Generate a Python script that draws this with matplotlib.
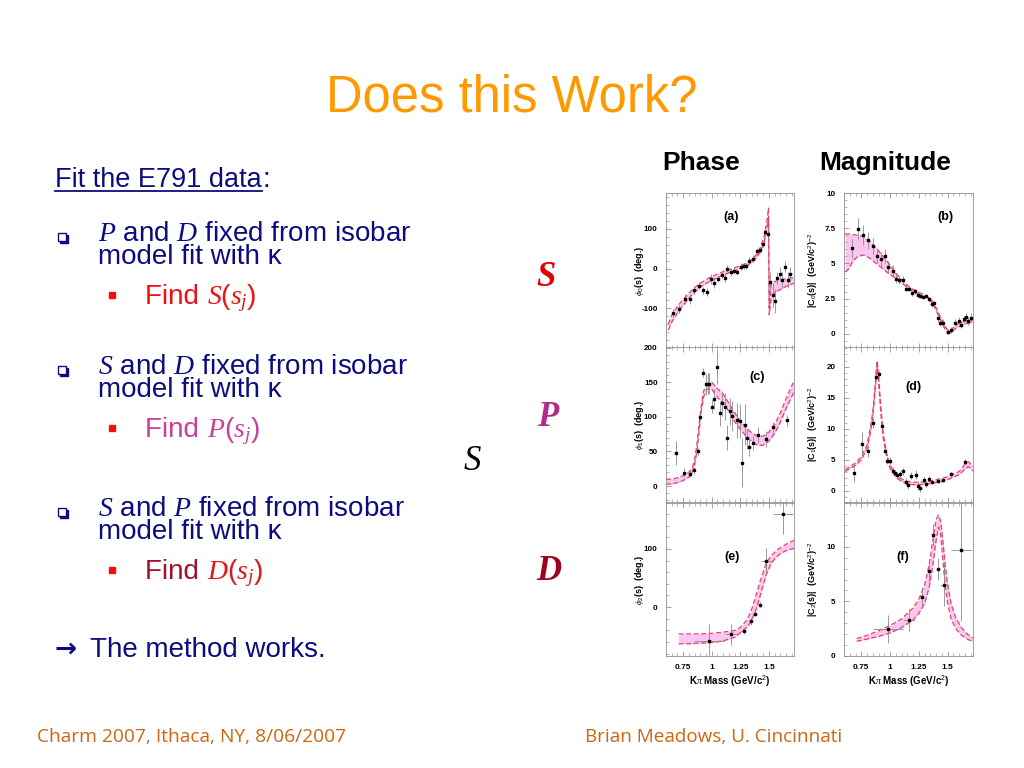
import numpy as np
import matplotlib
matplotlib.use("Agg")
import matplotlib.pyplot as plt
from matplotlib.ticker import MultipleLocator

plt.rcParams['font.family'] = ['Liberation Sans', 'DejaVu Sans']
plt.rcParams['mathtext.fontset'] = 'custom'
plt.rcParams['mathtext.rm'] = 'Liberation Sans'
plt.rcParams['mathtext.it'] = 'Liberation Serif:italic'
plt.rcParams['mathtext.bf'] = 'Liberation Sans:bold'

# ---- panel (a): S-wave phase ----
xa = [0.664, 0.718, 0.764, 0.807, 0.842, 0.885, 0.922, 0.957, 0.991, 1.023, 1.052, 1.086,
      1.115, 1.135, 1.167, 1.195, 1.221, 1.253, 1.279, 1.302, 1.330, 1.365, 1.397, 1.422,
      1.445, 1.466, 1.489, 1.511, 1.532, 1.552, 1.575, 1.595, 1.618, 1.641, 1.669, 1.689]
ya = [-112, -102, -77, -77, -55, -43, -55, -58, -27, -37, -27, -17, -25, 0, -10, -5, -8, 5,
      7, 7, 20, 25, 43, 47, 62, 92, 87, -35, -67, -82, -25, -13, -28, 5, -30, -15]
ea = [10, 10, 12, 12, 8, 8, 8, 10, 12, 12, 8, 8, 10, 8, 8, 8, 8, 8, 8, 8, 8, 8, 8, 8, 8,
      12, 12, 25, 30, 30, 15, 18, 20, 15, 20, 20]
xa_band = [0.62, 0.65, 0.70, 0.75, 0.80, 0.85, 0.90, 0.95, 1.00, 1.05, 1.10, 1.15, 1.20,
           1.25, 1.30, 1.35, 1.40, 1.43, 1.46, 1.48, 1.49, 1.497, 1.503, 1.52, 1.55, 1.60,
           1.65, 1.72]
lo_a = [-155, -135, -112, -92, -75, -60, -47, -38, -30, -23, -17, -11, -6, 0, 6, 15, 30,
        45, 68, 95, 115, 130, -116, -75, -60, -53, -45, -37]
hi_a = [-140, -118, -95, -78, -62, -48, -37, -28, -20, -14, -8, -3, 2, 7, 13, 22, 38,
        56, 82, 115, 135, 152, -100, -40, -33, -28, -26, -22]

# ---- panel (b): S-wave magnitude ----
xb = [0.670, 0.722, 0.767, 0.810, 0.849, 0.886, 0.920, 0.955, 0.986, 1.023, 1.051, 1.080,
      1.108, 1.136, 1.165, 1.193, 1.216, 1.241, 1.264, 1.290, 1.313, 1.335, 1.361, 1.384,
      1.415, 1.437, 1.460, 1.503, 1.531, 1.567, 1.595, 1.615, 1.640, 1.660, 1.680, 1.700]
yb = [6.07, 7.43, 7.02, 6.64, 6.24, 5.52, 5.29, 5.50, 4.74, 4.50, 3.93, 3.81, 3.83, 3.21,
      3.21, 2.88, 3.02, 2.79, 2.69, 2.64, 2.69, 2.45, 2.12, 2.17, 1.10, 0.80, 0.80, 0.17,
      0.26, 0.80, 0.95, 0.65, 1.05, 1.20, 0.90, 1.15]
eb = [0.7, 0.8, 0.7, 0.6, 0.6, 0.5, 0.5, 0.5, 0.4, 0.4, 0.3, 0.3, 0.3, 0.2, 0.2, 0.2, 0.2,
      0.2, 0.15, 0.15, 0.15, 0.15, 0.2, 0.2, 0.25, 0.25, 0.25, 0.2, 0.2, 0.25, 0.25, 0.25,
      0.25, 0.3, 0.3, 0.3]
xb_band = [0.61, 0.64, 0.68, 0.72, 0.77, 0.82, 0.88, 0.94, 1.00, 1.05, 1.10, 1.15, 1.20,
           1.25, 1.30, 1.35, 1.38, 1.42, 1.46, 1.50, 1.53, 1.57, 1.62, 1.67, 1.72]
lo_b = [4.4, 4.6, 5.2, 5.5, 5.6, 5.4, 5.0, 4.6, 4.2, 3.95, 3.6, 3.3, 3.0, 2.8, 2.6, 2.35,
        2.0, 1.3, 0.6, 0.05, 0.1, 0.4, 0.6, 0.75, 0.8]
hi_b = [7.1, 7.1, 7.05, 7.0, 6.9, 6.6, 6.1, 5.5, 4.9, 4.3, 3.85, 3.45, 3.15, 2.95, 2.75,
        2.5, 2.2, 1.5, 0.8, 0.25, 0.3, 0.6, 0.85, 0.95, 1.0]

# ---- panel (c): P-wave phase ----
xc = [0.684, 0.761, 0.807, 0.848, 0.876, 0.899, 0.925, 0.948, 0.966, 0.980, 1.000, 1.023,
      1.049, 1.072, 1.092, 1.115, 1.138, 1.161, 1.181, 1.224, 1.247, 1.267, 1.287, 1.305,
      1.330, 1.365, 1.408, 1.474, 1.537, 1.655]
yc = [48, 19.5, 18, 23, 50, 100, 164, 147, 148, 148, 115, 126, 172, 105, 120, 115, 70, 108,
      101, 95, 94, 34, 89, 69, 56, 62, 74, 68, 85, 95]
ec = [17, 6, 5, 5, 5, 5, 6, 15, 15, 15, 10, 15, 25, 18, 18, 20, 18, 20, 22, 25, 25, 35, 30,
      15, 12, 10, 12, 12, 8, 8]
xc_band = [0.60, 0.65, 0.70, 0.75, 0.80, 0.83, 0.85, 0.87, 0.89, 0.91, 0.93, 0.96, 1.00,
           1.05, 1.10, 1.15, 1.20, 1.25, 1.30, 1.35, 1.40, 1.45, 1.50, 1.55, 1.60, 1.65, 1.72]
lo_c = [3, 3, 5, 8, 13, 20, 30, 50, 80, 110, 130, 140, 140, 128, 120, 108, 93, 82, 72, 64,
        59, 59, 65, 76, 92, 112, 136]
hi_c = [10, 10, 12, 15, 20, 27, 38, 60, 90, 118, 138, 147, 150, 141, 133, 120, 106, 94, 84,
        77, 72, 72, 78, 89, 106, 126, 152]

# ---- panel (d): P-wave magnitude ----
xd = [0.687, 0.759, 0.807, 0.849, 0.878, 0.901, 0.929, 0.952, 0.977, 1.000, 1.023, 1.043,
      1.063, 1.085, 1.108, 1.136, 1.159, 1.179, 1.222, 1.244, 1.264, 1.293, 1.313, 1.335,
      1.361, 1.412, 1.460, 1.531, 1.648]
yd = [2.95, 7.56, 6.43, 10.9, 18.3, 18.8, 10.5, 6.43, 4.88, 4.88, 3.27, 2.84, 2.57, 2.73,
      3.16, 1.5, 0.9, 2.47, 2.63, 0.8, 0.38, 1.77, 1.13, 1.98, 1.45, 1.66, 1.77, 2.68, 4.66]
ed = [1.5, 2.0, 1.0, 0.8, 0.6, 0.6, 0.5, 0.5, 0.5, 0.5, 0.5, 0.5, 0.5, 0.5, 0.6, 0.6, 0.6,
      0.6, 0.7, 0.6, 0.6, 0.5, 0.5, 0.4, 0.4, 0.4, 0.4, 0.4, 0.4]
xd_band = [0.61, 0.65, 0.70, 0.75, 0.80, 0.83, 0.85, 0.87, 0.88, 0.888, 0.90, 0.92, 0.94,
           0.97, 1.00, 1.05, 1.10, 1.15, 1.20, 1.25, 1.30, 1.35, 1.40, 1.45, 1.50, 1.55,
           1.60, 1.65, 1.68, 1.72]
lo_d = [3.1, 3.6, 4.1, 5.0, 6.8, 9.5, 12.0, 16.0, 18.5, 20.2, 17.5, 12.5, 8.5, 5.5, 3.6,
        2.2, 1.5, 1.15, 1.0, 1.0, 1.05, 1.15, 1.35, 1.5, 1.8, 2.2, 2.6, 3.5, 3.9, 3.2]
hi_d = [3.4, 3.9, 4.5, 5.5, 7.4, 10.3, 12.8, 17.0, 19.6, 21.0, 18.5, 13.5, 9.3, 6.1, 4.1,
        2.6, 1.9, 1.55, 1.4, 1.4, 1.45, 1.55, 1.8, 2.0, 2.3, 2.7, 3.1, 4.3, 4.7, 4.0]

# ---- panel (e): D-wave phase ----
xe = [0.974, 1.170, 1.279, 1.342, 1.379, 1.420, 1.477, 1.624]
ye = [-59, -47, -41, -24, -11, 4, 79, 160]
ee = [30, 18, 5, 6, 5, 4, 23, 35]
xee = [0.13, 0.05, 0.02, 0.015, 0.015, 0.015, 0.05, 0.09]
xe_band = [0.71, 0.80, 0.90, 1.00, 1.10, 1.20, 1.25, 1.30, 1.33, 1.36, 1.39, 1.42, 1.45,
           1.48, 1.52, 1.56, 1.60, 1.65, 1.72]
lo_e = [-63, -63, -62, -61, -58, -52, -44, -36, -29, -17, -3, 17, 38, 57, 75, 85, 92, 97, 101]
hi_e = [-46, -46, -46, -45, -43, -40, -35, -24, -13, 2, 22, 42, 60, 77, 88, 96, 102, 108, 115]

# ---- panel (f): D-wave magnitude ----
xf = [0.980, 1.165, 1.278, 1.335, 1.375, 1.415, 1.472, 1.619]
yf = [2.48, 3.31, 5.43, 7.76, 11.1, 8.0, 6.53, 9.66]
ef = [1.3, 1.0, 0.9, 1.0, 1.0, 1.0, 2.0, 6.5]
xef = [0.13, 0.05, 0.02, 0.015, 0.015, 0.02, 0.04, 0.09]
xf_band = [0.71, 0.80, 0.90, 1.00, 1.10, 1.20, 1.25, 1.30, 1.34, 1.37, 1.40, 1.42, 1.44,
           1.46, 1.48, 1.50, 1.53, 1.57, 1.62, 1.67, 1.72]
lo_f = [1.35, 1.55, 1.8, 2.1, 2.6, 3.3, 3.9, 4.8, 6.3, 8.2, 10.6, 11.8, 11.0, 8.6, 6.3,
        4.8, 3.4, 2.5, 1.9, 1.55, 1.3]
hi_f = [1.6, 1.9, 2.3, 2.8, 3.4, 4.4, 5.2, 6.5, 8.4, 10.5, 12.5, 12.9, 12.3, 10.4, 8.2,
        6.5, 4.8, 3.5, 2.6, 2.0, 1.65]

xtick_vals = [0.75, 1, 1.25, 1.5]
xtick_text = ['0.75', '1', '1.25', '1.5']

navy = '#0c0c80'
band_line = '#e8406e'
band_fill = '#f9c6ef'

fig = plt.figure(figsize=(10.24, 7.68), dpi=100)
fig.patch.set_facecolor('white')

# slide layer in pixel coordinates
bg = fig.add_axes([0, 0, 1, 1])
bg.set_xlim(0, 1024)
bg.set_ylim(768, 0)
bg.axis('off')
renderer = fig.canvas.get_renderer()


def right_edge(t):
    bb = t.get_window_extent(renderer)
    return bg.transData.inverted().transform((bb.x1, bb.y0))[0]


bg.text(512, 111, 'Does this Work?', color='#ff9900', fontsize=36.5, ha='center', va='baseline')

t = bg.text(55, 187, 'Fit the E791 data', color=navy, fontsize=19.5, va='baseline')
xe_fit = right_edge(t)
bg.plot([55, xe_fit], [191, 191], color=navy, lw=1.3)
bg.text(xe_fit + 1, 187, ':', color=navy, fontsize=19.5, va='baseline')

groups = [
    (r'$P$ and $D$ fixed from isobar', 'Find', r'$S(s_j)$', '#ee1111', '#ee1111', 0),
    (r'$S$ and $D$ fixed from isobar', 'Find', r'$P(s_j)$', '#c8409a', '#c8409a', 133),
    (r'$S$ and $P$ fixed from isobar', 'Find', r'$D(s_j)$', '#a3102c', '#e01818', 275),
]
for line1, find, fn, c1, c2, dy in groups:
    bg.plot(63.5, 238.5 + dy, marker='s', ms=6, color=navy)
    bg.plot(62, 237 + dy, marker='s', ms=6, mfc='white', mec=navy, mew=1.0)
    bg.text(98, 241 + dy, line1, color=navy, fontsize=20, va='baseline')
    bg.text(98, 264 + dy, 'model fit with κ', color=navy, fontsize=20, va='baseline')
    bg.plot(112, 295 + dy, marker='s', ms=5, color='#ee1111')
    t = bg.text(145, 304 + dy, find + ' ', color=c1, fontsize=20, va='baseline')
    bg.text(right_edge(t), 304 + dy, fn, color=c2, fontsize=20, va='baseline')

bg.text(54, 657, '→', color=navy, fontsize=19, family='DejaVu Sans', weight='bold',
        va='baseline')
bg.text(90, 657, 'The method works.', color=navy, fontsize=20, va='baseline')

wave_font = dict(family='Liberation Serif', style='italic', fontsize=25, va='center', ha='center')
bg.text(546, 277, 'S', color='#e00000', weight='bold', **wave_font)
bg.text(548, 417, 'P', color='#b02c8c', weight='bold', **wave_font)
bg.text(472, 461, 'S', color='black', **wave_font)
bg.text(549, 572, 'D', color='#a00020', weight='bold', **wave_font)

bg.text(701, 163, 'Phase', fontsize=19, weight='bold', ha='center', va='center')
bg.text(885, 163, 'Magnitude', fontsize=19, weight='bold', ha='center', va='center')

bg.text(37, 742, 'Charm 2007, Ithaca, NY, 8/06/2007', color='#cc6611', fontsize=13.8,
        family='Open Sans', va='baseline')
bg.text(842, 742, 'Brian Meadows, U. Cincinnati', color='#cc6611', fontsize=13.6,
        family='Open Sans', va='baseline', ha='right')

# plot panels
col_x = [666 / 1024, 844 / 1024]
col_w = [128 / 1024, 129 / 1024]
row_y = [420 / 768, 266 / 768, 112 / 768]
row_h = [155 / 768, 155 / 768, 153 / 768]

panels = [
    dict(r=0, c=0, x=xa, y=ya, ey=ea, ex=0.01, bx=xa_band, lo=lo_a, hi=hi_a,
         ylim=(-200, 190), yt=[-100, 0, 100], ytl=['-100', '0', '100'], mn=20,
         lab='(a)', lxy=(1.17, 130), ylab=r'$\phi_0$(s)  (deg.)'),
    dict(r=0, c=1, x=xb, y=yb, ey=eb, ex=0.01, bx=xb_band, lo=lo_b, hi=hi_b,
         ylim=(-1, 10), yt=[0, 2.5, 5, 7.5, 10], ytl=['0', '2.5', '5', '7.5', '10'], mn=0.5,
         lab='(b)', lxy=(1.48, 8.3), ylab=r'|C$_0$(s)|  (GeV/c$^2$)$^{-2}$'),
    dict(r=1, c=0, x=xc, y=yc, ey=ec, ex=0.01, bx=xc_band, lo=lo_c, hi=hi_c,
         ylim=(-23, 201), yt=[0, 50, 100, 150, 200], ytl=['0', '50', '100', '150', '200'], mn=10,
         lab='(c)', lxy=(1.40, 157), ylab=r'$\phi_1$(s)  (deg.)'),
    dict(r=1, c=1, x=xd, y=yd, ey=ed, ex=0.01, bx=xd_band, lo=lo_d, hi=hi_d,
         ylim=(-1.8, 23.2), yt=[0, 5, 10, 15, 20], ytl=['0', '5', '10', '15', '20'], mn=1,
         lab='(d)', lxy=(1.20, 16.8), ylab=r'|C$_1$(s)|  (GeV/c$^2$)$^{-2}$'),
    dict(r=2, c=0, x=xe, y=ye, ey=ee, ex=xee, bx=xe_band, lo=lo_e, hi=hi_e,
         ylim=(-84, 179), yt=[0, 100], ytl=['0', '100'], mn=20,
         lab='(e)', lxy=(1.18, 87), ylab=r'$\phi_2$(s)  (deg.)'),
    dict(r=2, c=1, x=xf, y=yf, ey=ef, ex=xef, bx=xf_band, lo=lo_f, hi=hi_f,
         ylim=(0, 14), yt=[0, 5, 10], ytl=['0', '5', '10'], mn=1,
         lab='(f)', lxy=(1.11, 9.1), ylab=r'|C$_2$(s)|  (GeV/c$^2$)$^{-2}$'),
]

for p in panels:
    ax = fig.add_axes([col_x[p['c']], row_y[p['r']], col_w[p['c']], row_h[p['r']]])
    ax.fill_between(p['bx'], p['lo'], p['hi'], color=band_fill, lw=0)
    ax.plot(p['bx'], p['lo'], color=band_line, lw=0.9, dashes=(4, 2))
    ax.plot(p['bx'], p['hi'], color=band_line, lw=0.9, dashes=(4, 2))
    ax.errorbar(p['x'], p['y'], yerr=p['ey'], xerr=p['ex'], fmt='s', ms=2.0, color='black',
                ecolor='#8a8a8a', elinewidth=0.6, capsize=0)
    ax.set_xlim(0.6, 1.72)
    ax.set_ylim(*p['ylim'])
    ax.set_xticks(xtick_vals)
    ax.xaxis.set_minor_locator(MultipleLocator(0.05))
    ax.set_yticks(p['yt'])
    ax.set_yticklabels(p['ytl'], fontsize=5.8, fontweight='bold')
    ax.yaxis.set_minor_locator(MultipleLocator(p['mn']))
    ax.tick_params(which='both', direction='in', top=True, right=False, color='#808080')
    ax.tick_params(which='major', length=3.5, width=0.5, pad=6)
    ax.tick_params(which='minor', length=2, width=0.4)
    for s in ax.spines.values():
        s.set_color('#909090')
        s.set_linewidth(0.6)
    if p['r'] == 2:
        ax.set_xticklabels(xtick_text, fontsize=6, fontweight='bold')
        ax.set_xlabel(r'K$\pi$ Mass (GeV/c$^2$)', fontsize=7, fontweight='bold', labelpad=2)
    else:
        ax.tick_params(labelbottom=False)
    ax.set_ylabel(p['ylab'], fontsize=6.5, fontweight='bold')
    ax.yaxis.set_label_coords(-0.16 if p['c'] == 0 else -0.19, 0.5)
    ax.text(p['lxy'][0], p['lxy'][1], p['lab'], fontsize=9, fontweight='bold', ha='center',
            va='center')

fig.savefig('out.png', dpi=100, facecolor='white')
